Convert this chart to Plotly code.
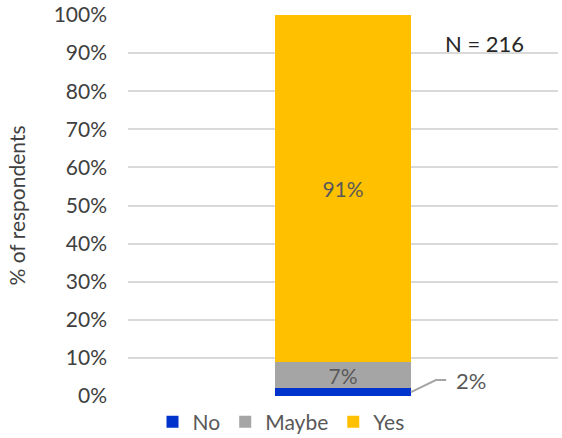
import plotly.graph_objects as go

categories = ["All"]
series_names = ["No", "Maybe", "Yes"]
no_vals = [2]
maybe_vals = [7]
yes_vals = [91]
colors = ["#0033CC", "#A5A5A5", "#FFC000"]
y_ticks = [0, 10, 20, 30, 40, 50, 60, 70, 80, 90, 100]
n_label = "N = 216"

FONT = "Lato"
TXT = "#404040"
bar_w = 0.316
xpos = [0]

fig = go.Figure()
for name, vals, col in zip(series_names, [no_vals, maybe_vals, yes_vals], colors):
    show_text = name != "No"
    fig.add_trace(go.Bar(
        x=xpos, y=vals, name=name, width=bar_w,
        marker=dict(color=col, line=dict(width=0)),
        text=[f"{v}%" for v in vals] if show_text else None,
        textposition="inside" if show_text else "none",
        insidetextanchor="middle",
        constraintext="none",
        textfont=dict(family=FONT, size=21, color="#595959"),
        hoverinfo="skip",
    ))

# leader line + outside label for the small "No" segment
edge = bar_w / 2
y_mid = no_vals[0] / 2
y_lab = no_vals[0] + 2.2
fig.add_shape(type="path",
              path=f"M {edge},{y_mid} L {edge+0.058},{y_lab} L {edge+0.082},{y_lab}",
              xref="x", yref="y", line=dict(color="#A5A5A5", width=2))
fig.add_annotation(x=edge + 0.1, y=y_lab, text=f"{no_vals[0]}%", showarrow=False,
                   xanchor="left", yanchor="middle", xref="x", yref="y",
                   font=dict(family=FONT, size=22, color="#595959"))
fig.add_annotation(x=0.33, y=92.6, text=n_label, showarrow=False,
                   xref="x", yref="y", xanchor="center", yanchor="middle",
                   font=dict(family=FONT, size=22, color="#262626"))

fig.update_layout(
    width=562, height=438,
    margin=dict(l=128, r=4, t=15, b=42, autoexpand=False),
    barmode="stack",
    paper_bgcolor="white", plot_bgcolor="white",
    font=dict(family=FONT, color=TXT, size=20),
    showlegend=True,
    legend=dict(orientation="h", xref="paper", yref="paper",
                x=(281 - 128) / 430, xanchor="center", y=-(422 - 396) / 381, yanchor="middle",
                font=dict(family=FONT, size=21, color="#595959"),
                traceorder="normal", itemwidth=30, bgcolor="rgba(0,0,0,0)"),
    xaxis=dict(range=[-0.5, 0.5], showticklabels=False, showgrid=False,
               zeroline=False, showline=False, fixedrange=True),
    yaxis=dict(range=[0, 100], tickvals=y_ticks,
               ticktext=[f"{t}%" for t in y_ticks],
               showgrid=True, gridcolor="#D9D9D9", gridwidth=2,
               zeroline=False, showline=False, ticks="", automargin=False,
               ticklabelstandoff=20,
               tickfont=dict(family=FONT, size=21, color=TXT),
               title=dict(text="% of respondents", standoff=22,
                          font=dict(family=FONT, size=21, color=TXT))),
)
fig.write_html("out.html", config={"displayModeBar": False},
               post_script="document.body.style.margin='0';document.body.style.overflow='hidden';")
